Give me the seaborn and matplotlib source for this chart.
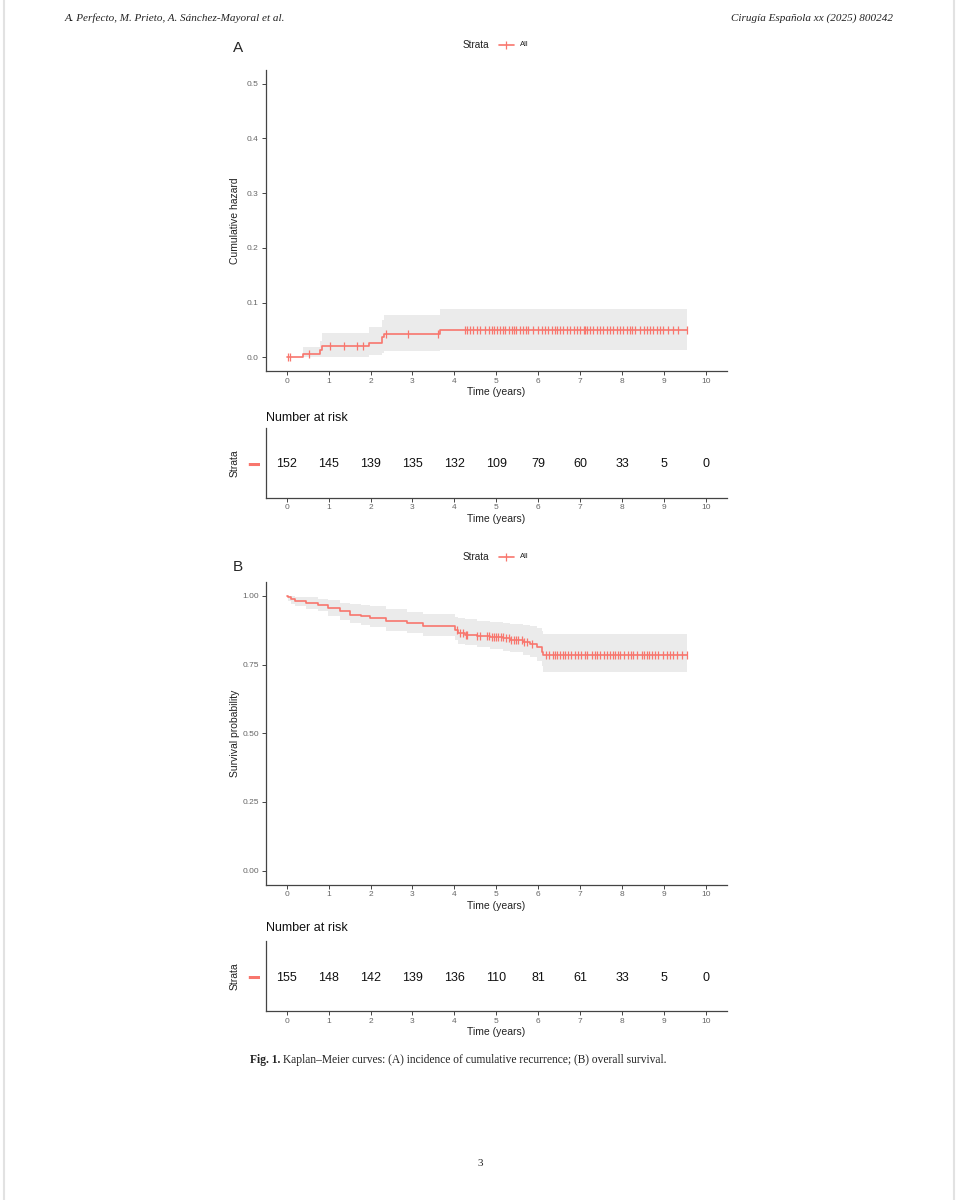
import numpy as np
import matplotlib
matplotlib.use("Agg")
import matplotlib.pyplot as plt
from matplotlib.lines import Line2D
import seaborn as sns

# (A) cumulative hazard: step times, values and confidence band
haz_t = [0, 0.38, 0.80, 0.84, 1.96, 2.28, 2.33, 3.65, 9.55]
haz_y = [0, 0.0066, 0.0133, 0.0200, 0.0267, 0.0368, 0.0435, 0.0505, 0.0505]
haz_lo = [0, 0, 0, 0, 0.004, 0.008, 0.011, 0.013, 0.013]
haz_hi = [0, 0.019, 0.030, 0.044, 0.055, 0.068, 0.077, 0.088, 0.088]
haz_cens = [0.03, 0.09, 0.53, 1.03, 1.37, 1.67, 1.81, 2.38, 2.89, 3.62,
            4.25, 4.30, 4.36, 4.45, 4.53, 4.61, 4.73, 4.83, 4.89, 4.94, 5.01,
            5.09, 5.15, 5.21, 5.29, 5.37, 5.42, 5.48, 5.56, 5.63, 5.71, 5.76,
            5.88, 6.00, 6.08, 6.16, 6.24, 6.32, 6.40, 6.45, 6.52, 6.60, 6.68,
            6.76, 6.85, 6.92, 7.00, 7.08, 7.12, 7.15, 7.23, 7.31, 7.39, 7.47,
            7.55, 7.63, 7.71, 7.79, 7.87, 7.95, 8.03, 8.11, 8.19, 8.23, 8.31,
            8.43, 8.51, 8.59, 8.67, 8.74, 8.82, 8.90, 8.98, 9.10, 9.22, 9.32,
            9.54]
risk_a = [152, 145, 139, 135, 132, 109, 79, 60, 33, 5, 0]

# (B) overall survival
surv_t = [0, 0.04, 0.10, 0.19, 0.47, 0.75, 0.99, 1.26, 1.50, 1.78, 1.98,
          2.38, 2.86, 3.25, 4.01, 4.08, 4.25, 4.53, 4.84, 5.16, 5.32, 5.64,
          5.80, 5.96, 6.08, 6.12, 9.55]
surv_y = [1.0, 0.994, 0.987, 0.981, 0.974, 0.968, 0.955, 0.943, 0.931, 0.925,
          0.919, 0.907, 0.901, 0.889, 0.877, 0.865, 0.859, 0.853, 0.849, 0.845,
          0.840, 0.833, 0.824, 0.812, 0.797, 0.786, 0.786]
surv_lo = [1.0, 0.982, 0.970, 0.962, 0.952, 0.945, 0.927, 0.913, 0.900,
           0.893, 0.885, 0.872, 0.864, 0.852, 0.838, 0.826, 0.820, 0.812,
           0.806, 0.800, 0.795, 0.786, 0.777, 0.762, 0.745, 0.722, 0.722]
surv_hi = [1.0, 1.0, 1.0, 0.997, 0.994, 0.990, 0.983, 0.975, 0.970, 0.965,
           0.961, 0.952, 0.942, 0.935, 0.922, 0.920, 0.916, 0.910, 0.906,
           0.901, 0.898, 0.893, 0.889, 0.882, 0.872, 0.862, 0.862]
surv_cens = [4.07, 4.13, 4.21, 4.28, 4.31, 4.53, 4.61, 4.77, 4.83, 4.89, 4.94,
             4.99, 5.05, 5.10, 5.15, 5.23, 5.29, 5.34, 5.41, 5.47, 5.52, 5.60,
             5.66, 5.72, 5.84, 6.18, 6.26, 6.34, 6.40, 6.45, 6.51, 6.58, 6.63,
             6.71, 6.79, 6.87, 6.95, 7.03, 7.11, 7.17, 7.27, 7.35, 7.40, 7.47,
             7.56, 7.64, 7.71, 7.77, 7.83, 7.91, 7.96, 8.04, 8.15, 8.20, 8.27,
             8.35, 8.47, 8.52, 8.59, 8.65, 8.70, 8.78, 8.86, 8.98, 9.06, 9.14,
             9.22, 9.30, 9.42, 9.54]
risk_b = [155, 148, 142, 139, 136, 110, 81, 61, 33, 5, 0]

years = list(range(0, 11))
red = "#F8766D"
band = "#EBEBEB"
axcol = "#444444"

sns.set_theme(style="ticks")
plt.rcParams["font.family"] = ["Liberation Sans", "DejaVu Sans"]

W, H = 959, 1200
fig = plt.figure(figsize=(W / 100, H / 100), dpi=100)


def box(x0, y0, x1, y1):
    # pixel box (top-left origin) -> figure fraction
    return [x0 / W, 1 - y1 / H, (x1 - x0) / W, (y1 - y0) / H]


def style_axis(ax):
    sns.despine(ax=ax)
    for s in ["left", "bottom"]:
        ax.spines[s].set_color(axcol)
        ax.spines[s].set_linewidth(0.9)
    ax.tick_params(length=3, width=0.7, color=axcol, labelsize=6,
                   labelcolor="#666666", pad=2)
    ax.set_xlim(-0.5, 10.5)
    ax.set_xticks(years)
    ax.set_xlabel("Time (years)", fontsize=7.5, color="#222222", labelpad=1.5)
    ax.grid(False)


def km_panel(ax, t, y, lo, hi, cens, ylabel):
    t = np.array(t)
    y = np.array(y)
    ax.fill_between(t, lo, hi, step="post", color=band, lw=0)
    sns.lineplot(x=t, y=y, ax=ax, color=red, lw=1.2, estimator=None,
                 drawstyle="steps-post")
    idx = np.searchsorted(t, cens, side="right") - 1
    ax.plot(cens, y[idx], ls="none", marker="|", ms=6, mew=0.9, color=red)
    style_axis(ax)
    ax.set_ylabel(ylabel, fontsize=7.5, color="#222222")
    ax.yaxis.set_label_coords(-0.056, 0.5)


def risk_panel(ax, counts):
    for x, n in zip(years, counts):
        ax.text(x, 0, str(n), ha="center", va="center", fontsize=9,
                color="#111111")
    style_axis(ax)
    ax.set_ylim(-1, 1.1)
    ax.set_yticks([0])
    ax.set_yticklabels(["━"], color=red, fontsize=13)
    ax.tick_params(axis="y", length=0, pad=5, labelcolor=red)
    ax.set_ylabel("Strata", fontsize=7.5, color="#222222")
    ax.yaxis.set_label_coords(-0.056, 0.5)


def legend_row(ypix):
    fig.text(463 / W, 1 - ypix / H, "Strata", fontsize=7.2, va="center",
             color="#222222")
    fig.add_artist(Line2D([499 / W, 514 / W], [1 - ypix / H] * 2, color=red,
                          lw=1.2, transform=fig.transFigure))
    fig.add_artist(Line2D([506.5 / W], [1 - ypix / H], color=red, marker="|",
                          ms=6, mew=0.9, transform=fig.transFigure))
    fig.text(520 / W, 1 - ypix / H, "All", fontsize=5.5, va="center",
             color="#222222")


# panel A
ax_a = fig.add_axes(box(265.7, 70, 727, 371))
km_panel(ax_a, haz_t, haz_y, haz_lo, haz_hi, haz_cens, "Cumulative hazard")
ax_a.set_ylim(-0.025, 0.525)
ax_a.set_yticks([0, 0.1, 0.2, 0.3, 0.4, 0.5])
ax_a.set_yticklabels(["0.0", "0.1", "0.2", "0.3", "0.4", "0.5"])

ax_ra = fig.add_axes(box(265.7, 428, 727, 497.5))
risk_panel(ax_ra, risk_a)

# panel B
ax_b = fig.add_axes(box(265.7, 582, 727, 884.5))
km_panel(ax_b, surv_t, surv_y, surv_lo, surv_hi, surv_cens,
         "Survival probability")
ax_b.set_ylim(-0.05, 1.05)
ax_b.set_yticks([0, 0.25, 0.5, 0.75, 1.0])
ax_b.set_yticklabels(["0.00", "0.25", "0.50", "0.75", "1.00"])

ax_rb = fig.add_axes(box(265.7, 941, 727, 1011))
risk_panel(ax_rb, risk_b)

# labels, legends, titles
fig.text(238 / W, 1 - 48 / H, "A", fontsize=11, ha="center", va="center")
fig.text(238 / W, 1 - 567 / H, "B", fontsize=11, ha="center", va="center")
legend_row(45)
legend_row(557)
fig.text(266 / W, 1 - 418 / H, "Number at risk", fontsize=9, va="center",
         color="#111111")
fig.text(266 / W, 1 - 928 / H, "Number at risk", fontsize=9, va="center",
         color="#111111")

# page header / caption
serif = ["Liberation Serif", "DejaVu Serif"]
fig.text(65 / W, 1 - 18 / H, "A. Perfecto, M. Prieto, A. Sánchez-Mayoral et al.",
         fontsize=8, style="italic", family=serif, va="center", color="#222222")
fig.text(893 / W, 1 - 18 / H, "Cirugía Española xx (2025) 800242",
         fontsize=8, style="italic", family=serif, va="center", ha="right",
         color="#222222")

cap1 = fig.text(250 / W, 1 - 1060 / H, "Fig. 1.", fontsize=8.3,
                weight="bold", family=serif, va="center", color="#222222")
fig.canvas.draw()
bb = cap1.get_window_extent(renderer=fig.canvas.get_renderer())
fig.text(bb.x1 / W + 3 / W, 1 - 1060 / H,
         "Kaplan–Meier curves: (A) incidence of cumulative recurrence; "
         "(B) overall survival.", fontsize=8.3, family=serif, va="center",
         color="#222222")
fig.text(480 / W, 1 - 1163 / H, "3", fontsize=8, family=serif,
         ha="center", va="center", color="#222222")

# faint page edges of the screenshot
for xp in [4, 954]:
    fig.add_artist(Line2D([xp / W] * 2, [0, 1], color="#e2e2e2", lw=1.5,
                          transform=fig.transFigure))

fig.savefig("out.png", dpi=100)
